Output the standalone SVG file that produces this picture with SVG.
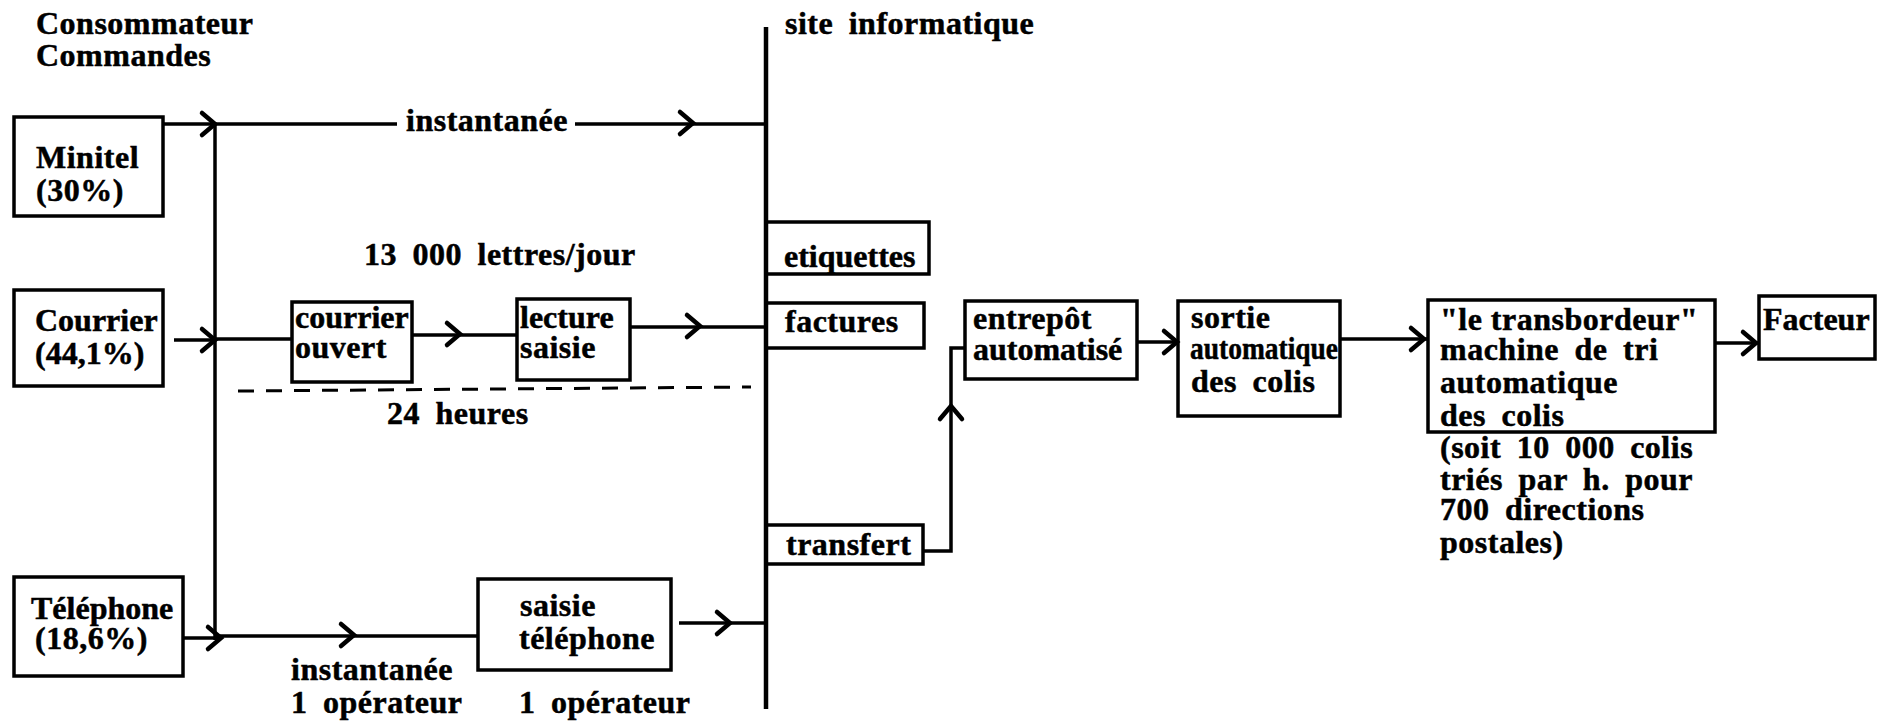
<svg xmlns="http://www.w3.org/2000/svg" xmlns:xlink="http://www.w3.org/1999/xlink" width="1885" height="725" viewBox="0 0 1885 725">
  <style>
    text { font-family: "Liberation Serif", "Times New Roman", serif; font-weight: bold; font-size: 32px; letter-spacing: 0.5px; fill: #000; stroke: #000; stroke-width: 0.5; }
    .wide { word-spacing: 7px; }
    .tight { letter-spacing: 0; }
    .box { fill: none; stroke: #000; stroke-width: 3.5; }
    .line { fill: none; stroke: #000; stroke-width: 3.5; }
    .bar { fill: none; stroke: #000; stroke-width: 4.5; }
    .dash { fill: none; stroke: #000; stroke-width: 3; stroke-dasharray: 16 12; }
    .head { fill: none; stroke: #000; stroke-width: 4.5; stroke-linejoin: miter; stroke-linecap: round; }
  </style>
  <defs>
    <!-- chevron arrowhead, tip at origin, pointing right -->
    <path id="chev" class="head" d="M-13,-11 L0,0 L-13,11"/>
  </defs>

  <rect width="1885" height="725" fill="#fff"/>

  <!-- headings -->
  <g id="title-left">
    <text x="36" y="34">Consommateur</text>
    <text x="36" y="66">Commandes</text>
  </g>
  <g id="title-site">
    <text x="785" y="34" class="wide">site informatique</text>
  </g>

  <!-- connectors -->
  <g id="connectors">
    <!-- collecting bus on the left -->
    <path class="line" d="M215,124 V640"/>
    <!-- site informatique bar -->
    <path class="bar" d="M766,27 V709"/>

    <!-- Minitel -->
    <path class="line" d="M163,124 H215 M215,124 H397 M575,124 H766"/>
    <use xlink:href="#chev" transform="translate(215,124)"/>
    <use xlink:href="#chev" transform="translate(693,123)"/>

    <!-- Courrier -->
    <path class="line" d="M174,340 H215 M215,339 H292"/>
    <use xlink:href="#chev" transform="translate(215,340)"/>
    <path class="line" d="M412,335 H517"/>
    <use xlink:href="#chev" transform="translate(460,334)"/>
    <path class="line" d="M630,327 H766"/>
    <use xlink:href="#chev" transform="translate(700,326)"/>
    <path class="dash" d="M238,391 L751,387"/>

    <!-- Téléphone -->
    <path class="line" d="M183,638 H220 M215,636 H478"/>
    <use xlink:href="#chev" transform="translate(221,638)"/>
    <use xlink:href="#chev" transform="translate(354,635)"/>
    <path class="line" d="M679,623 H766"/>
    <use xlink:href="#chev" transform="translate(730,623)"/>

    <!-- transfert up to entrepôt -->
    <path class="line" d="M922,551 H951 V348 H965"/>
    <use xlink:href="#chev" transform="translate(951,406) rotate(-90)"/>

    <!-- downstream chain -->
    <path class="line" d="M1137,342 H1178"/>
    <use xlink:href="#chev" transform="translate(1177,342)"/>
    <path class="line" d="M1340,339 H1428"/>
    <use xlink:href="#chev" transform="translate(1424,339)"/>
    <path class="line" d="M1715,343 H1759"/>
    <use xlink:href="#chev" transform="translate(1756,343)"/>
  </g>

  <!-- connector labels -->
  <g id="labels">
    <text x="406" y="131">instantanée</text>
    <text x="364" y="265" class="wide">13 000 lettres/jour</text>
    <text x="387" y="424" class="wide">24 heures</text>
    <text x="291" y="680">instantanée</text>
    <text x="291" y="713" class="wide">1 opérateur</text>
    <text x="519" y="713" class="wide">1 opérateur</text>
  </g>

  <!-- sources -->
  <g id="minitel">
    <rect class="box" x="14" y="117" width="149" height="99"/>
    <text x="36" y="168">Minitel</text>
    <text x="36" y="201">(30%)</text>
  </g>
  <g id="courrier">
    <rect class="box" x="14" y="290" width="149" height="96"/>
    <text x="35" y="331" class="tight">Courrier</text>
    <text x="35" y="364" class="tight">(44,1%)</text>
  </g>
  <g id="telephone">
    <rect class="box" x="14" y="577" width="169" height="99"/>
    <text x="31" y="619" class="tight">Téléphone</text>
    <text x="35" y="649">(18,6%)</text>
  </g>

  <!-- mail processing -->
  <g id="courrier-ouvert">
    <rect class="box" x="292" y="302" width="120" height="80"/>
    <text x="295" y="328" class="tight">courrier</text>
    <text x="295" y="358">ouvert</text>
  </g>
  <g id="lecture-saisie">
    <rect class="box" x="517" y="299" width="113" height="81"/>
    <text x="520" y="328" class="tight">lecture</text>
    <text x="520" y="358">saisie</text>
  </g>
  <g id="saisie-telephone">
    <rect class="box" x="478" y="579" width="193" height="91"/>
    <text x="520" y="616">saisie</text>
    <text x="519" y="649">téléphone</text>
  </g>

  <!-- site informatique outputs -->
  <g id="etiquettes">
    <path class="box" d="M766,222 H929 V274 H766"/>
    <text x="784" y="267" class="tight">etiquettes</text>
  </g>
  <g id="factures">
    <path class="box" d="M766,303 H924 V348 H766"/>
    <text x="785" y="332">factures</text>
  </g>
  <g id="transfert">
    <path class="box" d="M766,525 H923 V564 H766"/>
    <text x="786" y="555">transfert</text>
  </g>

  <!-- logistics chain -->
  <g id="entrepot">
    <rect class="box" x="965" y="301" width="172" height="78"/>
    <text x="973" y="329">entrepôt</text>
    <text x="973" y="360" class="tight">automatisé</text>
  </g>
  <g id="sortie">
    <rect class="box" x="1178" y="301" width="162" height="115"/>
    <text x="1191" y="328">sortie</text>
    <text x="1190" y="359" class="tight" textLength="148" lengthAdjust="spacingAndGlyphs">automatique</text>
    <text x="1191" y="392" class="wide">des colis</text>
  </g>
  <g id="transbordeur">
    <rect class="box" x="1428" y="300" width="287" height="132"/>
    <text x="1440" y="330">"le transbordeur"</text>
    <text x="1440" y="360" class="wide">machine de tri</text>
    <text x="1440" y="393">automatique</text>
    <text x="1440" y="426" class="wide">des colis</text>
    <text x="1440" y="458" class="wide">(soit 10 000 colis</text>
    <text x="1440" y="490" class="wide">triés par h. pour</text>
    <text x="1440" y="520" class="wide">700 directions</text>
    <text x="1440" y="553">postales)</text>
  </g>
  <g id="facteur">
    <rect class="box" x="1759" y="296" width="116" height="63"/>
    <text x="1763" y="330" class="tight">Facteur</text>
  </g>
</svg>
